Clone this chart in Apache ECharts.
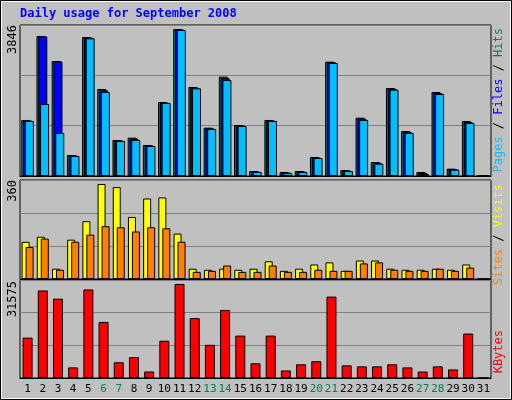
<!DOCTYPE html>
<html><head><meta charset="utf-8">
<script src="https://cdn.jsdelivr.net/npm/echarts@6/dist/echarts.min.js"></script>
<style>html,body{margin:0;padding:0;background:#fff}#c{width:512px;height:400px}</style>
</head><body><div id="c"></div>
<script>
const days = Array.from({length:31},(_,i)=>String(i+1));
const weekends = ['6','7','13','14','20','21','27','28'];
const hits  = [1465,3662,3008,549,3636,2276,942,1003,811,1936,3846,2328,1264,2599,1334,131,1465,105,131,497,2991,157,1526,366,2302,1177,105,2197,192,1439,0];
const files = [1452,3650,2995,536,3620,2240,930,975,800,1923,3832,2310,1247,2560,1320,118,1452,92,118,484,2975,144,1500,345,2280,1150,80,2170,180,1412,0];
const pages = [1440,1884,1125,523,3601,2197,916,942,785,1910,3819,2293,1230,2511,1308,105,1439,78,105,471,2956,131,1465,323,2258,1125,52,2145,166,1386,0];
const visits = [141,160,39,149,219,360,348,235,305,309,172,39,35,39,35,39,67,31,39,55,63,31,70,70,39,35,35,39,35,55,0];
const sites  = [121,153,35,141,168,200,196,180,196,192,141,27,31,51,27,27,51,27,27,35,31,31,59,63,35,31,31,39,31,43,0];
const kbytes = [13547,29390,26634,3559,29734,18827,5281,7003,2181,12513,31575,20090,11136,22845,14235,4936,14235,2526,4592,5625,27322,4248,3903,3903,4592,3559,2181,3903,2870,14924,0];
const maxLabels = ['3846','360','31575'];

const mono = 'DejaVu Sans Mono';
const grids = [
  {left:20,right:21,top:25,height:151},
  {left:20,right:21,top:180,height:99},
  {left:20,right:21,top:280,height:98}
];
const maxes = [3950,375,32900];
const xAxes = grids.map((g,i)=>({
  type:'category', gridIndex:i, data:days, boundaryGap:true,
  axisLine:{show:true,lineStyle:{color:'#000',width:1}}, axisTick:{show:false},
  axisLabel: i===2 ? {show:true, interval:0, margin:6, fontFamily:mono, fontSize:11, color:'#000',
    formatter:v=>weekends.includes(v)?'{w|'+v+'}':v, rich:{w:{color:'#00805c',fontFamily:mono,fontSize:11}}} : {show:false}
}));
const yAxes = grids.map((g,i)=>({
  type:'value', gridIndex:i, min:0, max:maxes[i], interval:maxes[i]/3,
  axisLabel:{show:false}, axisLine:{show:false}, axisTick:{show:false},
  splitLine:{show:true,lineStyle:{color:'#808080',width:1}}
}));
const bs = {borderColor:'#000',borderWidth:1};
const series = [
  {type:'bar',xAxisIndex:0,yAxisIndex:0,data:hits,barWidth:9,barGap:'-80%',itemStyle:{color:'#00805c',...bs}},
  {type:'bar',xAxisIndex:0,yAxisIndex:0,data:files,barWidth:9,barGap:'-80%',itemStyle:{color:'#0000ff',...bs}},
  {type:'bar',xAxisIndex:0,yAxisIndex:0,data:pages,barWidth:9,barGap:'-80%',itemStyle:{color:'#00bfff',...bs}},
  {type:'bar',xAxisIndex:1,yAxisIndex:1,data:visits,barWidth:8,barGap:'-50%',itemStyle:{color:'#ffff00',...bs}},
  {type:'bar',xAxisIndex:1,yAxisIndex:1,data:sites,barWidth:8,barGap:'-50%',itemStyle:{color:'#ff8000',...bs}},
  {type:'bar',xAxisIndex:2,yAxisIndex:2,data:kbytes,barWidth:10,itemStyle:{color:'#ff0000',...bs}}
];
const vtext = (x,y,text)=>({type:'text',x:x,y:y,rotation:Math.PI/2,style:{text:text,fontFamily:mono,fontSize:12,align:'right',verticalAlign:'middle',fill:'#000'}});
const f12 = c=>({fill:c,fontFamily:mono,fontSize:12});
const chart = echarts.init(document.getElementById('c'));
chart.setOption({
  backgroundColor:'#c0c0c0', animation:false,
  grid:grids.map(g=>({...g,show:true,borderColor:'#000',borderWidth:1,backgroundColor:'transparent'})),
  xAxis:xAxes, yAxis:yAxes, series:series,
  graphic:[
    {type:'rect',shape:{x:0.5,y:0.5,width:511,height:399},style:{fill:'none',stroke:'#000',lineWidth:1}},
    {type:'rect',shape:{x:1.5,y:1.5,width:509,height:397},style:{fill:'none',stroke:'#fff',lineWidth:1}},
    {type:'text',left:20,top:8,style:{text:'Daily usage for September 2008',fontFamily:mono,fontWeight:'bold',fontSize:12,fill:'#0000ff'}},
    vtext(13,25,maxLabels[0]),
    vtext(13,180,maxLabels[1]),
    vtext(13,281,maxLabels[2]),
    {type:'text',x:499,y:28,rotation:Math.PI/2,style:{text:'{p|Pages}{s| / }{f|Files}{s| / }{h|Hits}',align:'right',verticalAlign:'middle',fontFamily:mono,fontSize:12,
      rich:{h:f12('#00805c'),s:f12('#000'),f:f12('#0000ff'),p:f12('#00bfff')}}},
    {type:'text',x:499,y:184,rotation:Math.PI/2,style:{text:'{t|Sites}{s| / }{v|Visits}',align:'right',verticalAlign:'middle',fontFamily:mono,fontSize:12,
      rich:{v:f12('#ffff00'),s:f12('#000'),t:f12('#ff8000')}}},
    {type:'text',x:499,y:330,rotation:Math.PI/2,style:{text:'KBytes',align:'right',verticalAlign:'middle',fontFamily:mono,fontSize:12,fill:'#ff0000'}}
  ]
});
</script></body></html>
